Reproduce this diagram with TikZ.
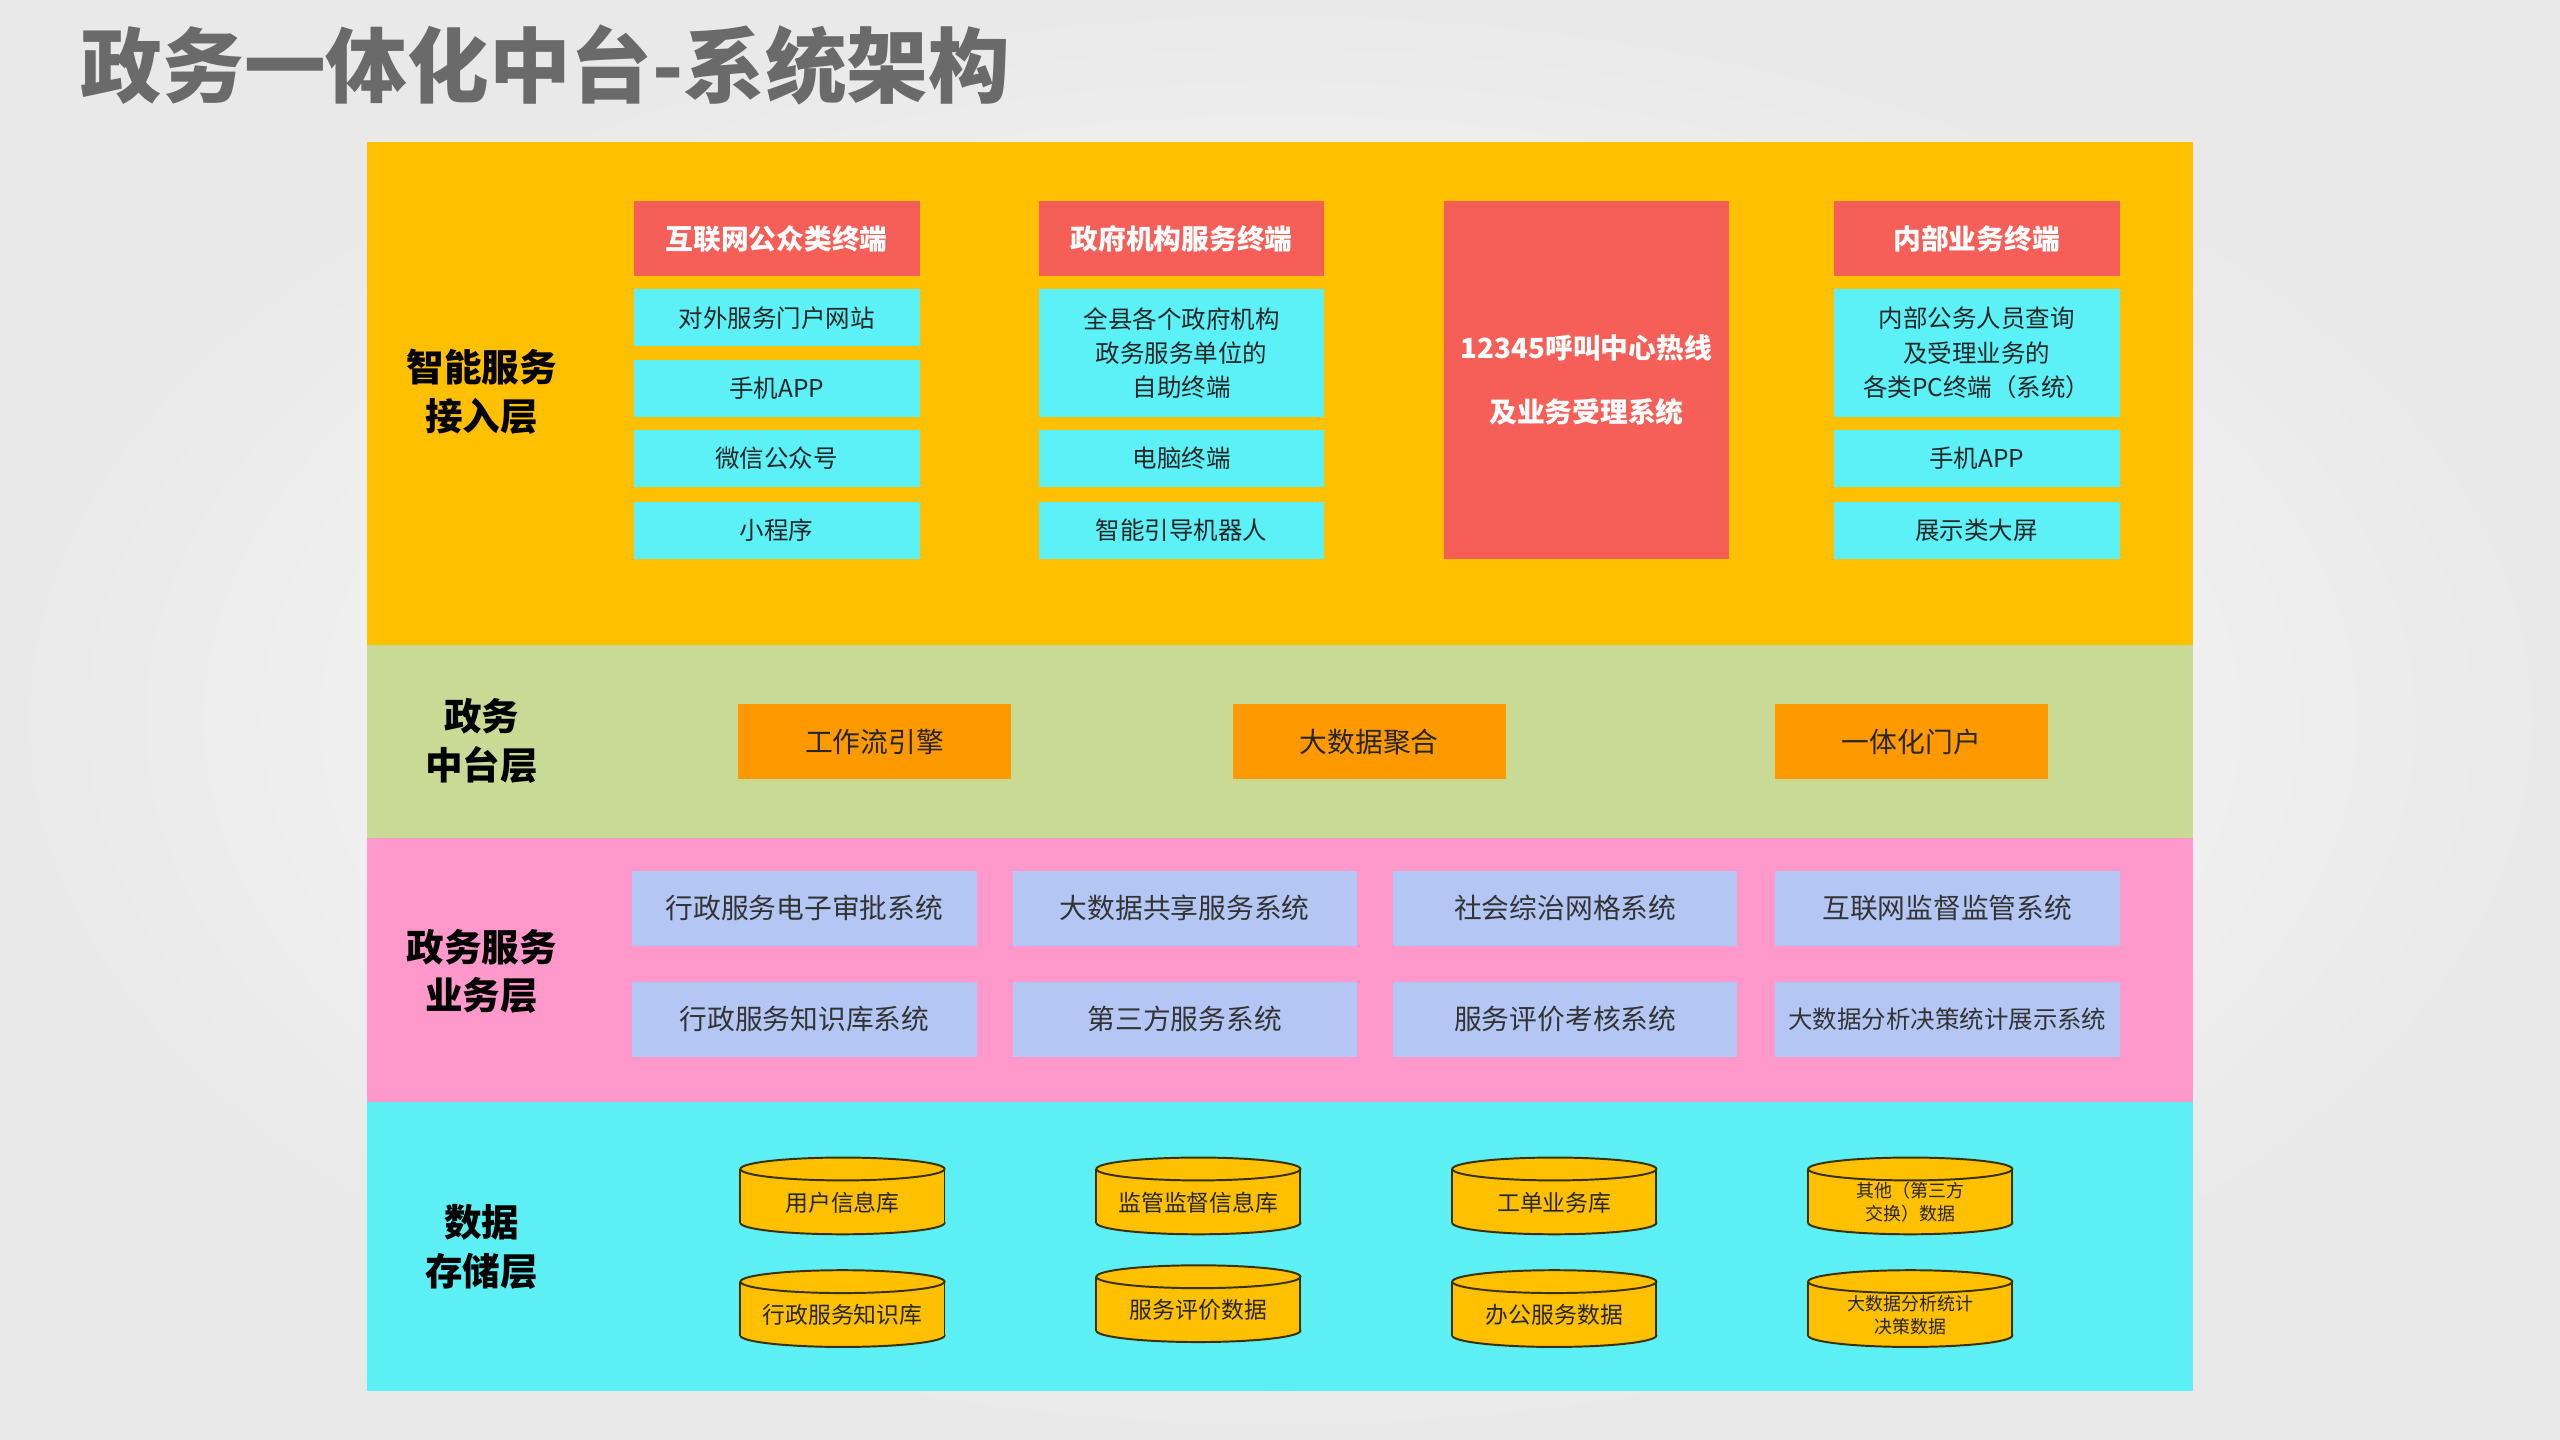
\documentclass[tikz,border=0pt]{standalone}
\usepackage{fontspec}
\setmainfont{Noto Sans CJK SC}
\definecolor{bgA}{HTML}{FFFFFF}
\definecolor{bgB}{HTML}{E9E9E9}
\definecolor{titlec}{HTML}{6A6A6A}
\definecolor{orangeL}{HTML}{FFC000}
\definecolor{greenL}{HTML}{C9DA95}
\definecolor{pinkL}{HTML}{FF99CC}
\definecolor{cyanL}{HTML}{5CF0F5}
\definecolor{redH}{HTML}{F65F57}
\definecolor{cyanB}{HTML}{5CF0F7}
\definecolor{orangeB}{HTML}{FF9900}
\definecolor{lavB}{HTML}{B4C7F4}
\definecolor{cylF}{HTML}{FFC000}
\definecolor{cylD}{HTML}{3A3000}
\tikzset{
  layerlbl/.style={font=\fontsize{23}{30}\selectfont\bfseries, align=center, text=black},
  hdr/.style={fill=redH, text=white, font=\fontsize{17}{22}\selectfont\bfseries, anchor=north west, inner sep=0pt, align=center},
  cbox/.style={fill=cyanB, text=black!85, font=\fontsize{15}{21}\selectfont, anchor=north west, inner sep=0pt, align=center},
  obox/.style={fill=orangeB, text=black!85, font=\fontsize{17}{22}\selectfont, anchor=north west, inner sep=0pt, minimum width=167pt, minimum height=46pt},
  lbox/.style={fill=lavB, text=black!80, font=\fontsize{17}{22}\selectfont, anchor=north west, inner sep=0pt, minimum width=211pt, minimum height=46pt},
  cyltxt/.style={text=black!85, font=\fontsize{14}{17}\selectfont, align=center, inner sep=0pt},
  cylsm/.style={text=black!85, font=\fontsize{11}{14}\selectfont, align=center, inner sep=0pt},
}
\newcommand\mycyl[5]{%
  \fill[cylF,draw=cylD,line width=1.2pt] (#2,#4) ellipse [x radius=62.5pt, y radius=7pt];
  \fill[cylF] (#2-62.5,#3) rectangle (#2+62.5,#4);
  \draw[cylD,line width=1.2pt] (#2-62.5,#3) -- (#2-62.5,#4) (#2+62.5,#3) -- (#2+62.5,#4);
  \fill[cylF,draw=cylD,line width=1.2pt] (#2,#3) ellipse [x radius=62.5pt, y radius=7pt];
  \node[#5] (#1) at (#2,{(#3+#4)/2+4})}
\begin{document}
\begin{tikzpicture}[x=1pt,y=-1pt]
\useasboundingbox (0,0) rectangle (1568,882);
\shade[inner color=bgA, outer color=bgB] (0,0) rectangle (1568,882);
\node[anchor=west, text=titlec, font=\fontsize{50}{56}\selectfont\bfseries] (title) at (46,40) {政务一体化中台-系统架构};
% layers
\fill[orangeL] (225,87) rectangle (1343,395);
\fill[greenL] (225,395) rectangle (1343,513);
\fill[pinkL] (225,513) rectangle (1343,675);
\fill[cyanL] (225,675) rectangle (1343,852);
\node[layerlbl] (l1) at (295,240) {智能服务\\接入层};
\node[layerlbl] (l2) at (295,454) {政务\\中台层};
\node[layerlbl] (l3) at (295,595) {政务服务\\业务层};
\node[layerlbl] (l4) at (295,764) {数据\\存储层};
% layer 1
\node[hdr, minimum width=175pt, minimum height=46pt] (h1) at (388,123) {互联网公众类终端};
\node[cbox, minimum width=175pt, minimum height=35pt] (a1) at (388,177) {对外服务门户网站};
\node[cbox, minimum width=175pt, minimum height=35pt] (a2) at (388,220) {手机APP};
\node[cbox, minimum width=175pt, minimum height=35pt] (a3) at (388,263) {微信公众号};
\node[cbox, minimum width=175pt, minimum height=35pt] (a4) at (388,307) {小程序};
\node[hdr, minimum width=175pt, minimum height=46pt] (h2) at (636,123) {政府机构服务终端};
\node[cbox, minimum width=175pt, minimum height=78pt] (b1) at (636,177) {全县各个政府机构\\政务服务单位的\\自助终端};
\node[cbox, minimum width=175pt, minimum height=35pt] (b2) at (636,263) {电脑终端};
\node[cbox, minimum width=175pt, minimum height=35pt] (b3) at (636,307) {智能引导机器人};
\node[hdr, minimum width=175pt, minimum height=219pt, font=\fontsize{17}{39}\selectfont\bfseries] (h3) at (884,123) {12345呼叫中心热线\\及业务受理系统};
\node[hdr, minimum width=175pt, minimum height=46pt] (h4) at (1123,123) {内部业务终端};
\node[cbox, minimum width=175pt, minimum height=78pt] (d1) at (1123,177) {内部公务人员查询\\及受理业务的\\各类PC终端（系统）};
\node[cbox, minimum width=175pt, minimum height=35pt] (d2) at (1123,263) {手机APP};
\node[cbox, minimum width=175pt, minimum height=35pt] (d3) at (1123,307) {展示类大屏};
% layer 2
\node[obox] (m1) at (452,431) {工作流引擎};
\node[obox] (m2) at (755,431) {大数据聚合};
\node[obox] (m3) at (1087,431) {一体化门户};
% layer 3
\node[lbox] (s1) at (387,533) {行政服务电子审批系统};
\node[lbox] (s2) at (620,533) {大数据共享服务系统};
\node[lbox] (s3) at (853,533) {社会综治网格系统};
\node[lbox] (s4) at (1087,533) {互联网监督监管系统};
\node[lbox] (s5) at (387,601) {行政服务知识库系统};
\node[lbox] (s6) at (620,601) {第三方服务系统};
\node[lbox] (s7) at (853,601) {服务评价考核系统};
\node[lbox, font=\fontsize{15}{20}\selectfont] (s8) at (1087,601) {大数据分析决策统计展示系统};
% layer 4
\mycyl{c1}{516}{716}{749}{cyltxt} {用户信息库};
\mycyl{c2}{734}{716}{749}{cyltxt} {监管监督信息库};
\mycyl{c3}{952}{716}{749}{cyltxt} {工单业务库};
\mycyl{c4}{1170}{716}{749}{cylsm} {其他（第三方\\交换）数据};
\mycyl{c5}{516}{785}{818}{cyltxt} {行政服务知识库};
\mycyl{c6}{734}{782}{815}{cyltxt} {服务评价数据};
\mycyl{c7}{952}{785}{818}{cyltxt} {办公服务数据};
\mycyl{c8}{1170}{785}{818}{cylsm} {大数据分析统计\\决策数据};
\end{tikzpicture}
\end{document}
